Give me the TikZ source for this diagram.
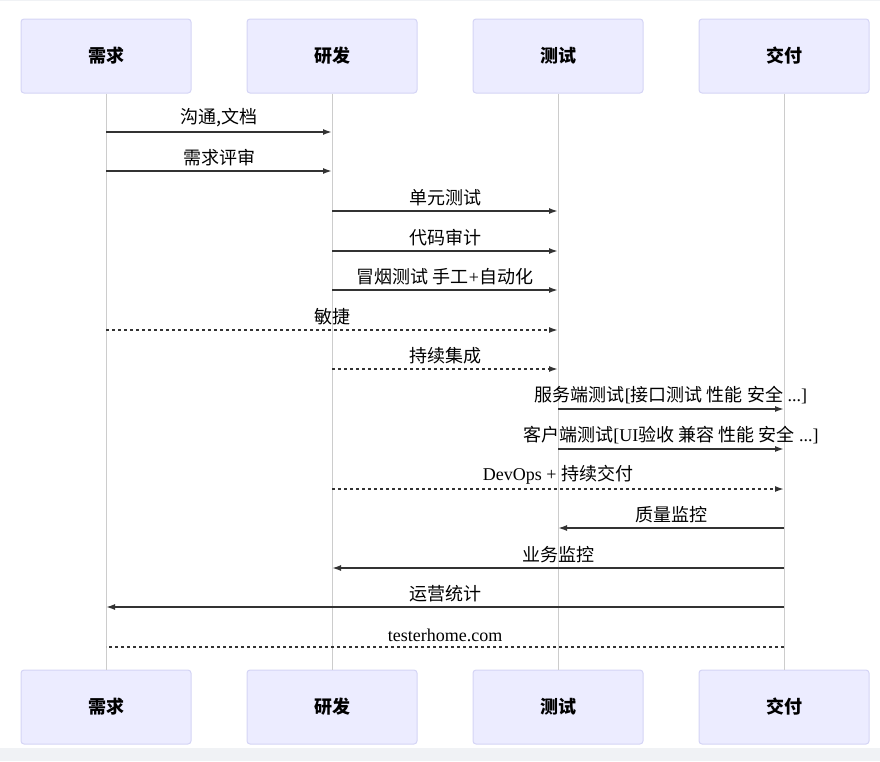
\documentclass[tikz,border=0pt]{standalone}
\usepackage{fontspec}
\setmainfont{Liberation Serif}
\newfontfamily\cjk{Noto Sans CJK SC}
\usetikzlibrary{arrows.meta}
\definecolor{actfill}{HTML}{ECECFF}
\definecolor{actdraw}{HTML}{D4D4F5}
\definecolor{lifec}{HTML}{CCCCCC}
\definecolor{msgc}{HTML}{333333}
\definecolor{stripc}{HTML}{F0F2F5}
\begin{document}
\begin{tikzpicture}[x=1pt,y=-1pt,
  actor/.style={draw=actdraw,fill=actfill,rounded corners=3pt,line width=1pt,
    minimum width=170pt,minimum height=74pt,inner sep=0pt,
    font=\fontsize{18}{21}\selectfont\cjk\bfseries},
  life/.style={draw=lifec,line width=1pt},
  msg/.style={draw=msgc,line width=1.6pt,-{Latex[length=9pt,width=6pt]}},
  dmsg/.style={msg,dash pattern=on 3pt off 3pt},
  dline/.style={draw=msgc,line width=1.6pt,dash pattern=on 3pt off 3pt},
  lbl/.style={above=4pt,inner sep=0pt,font=\fontsize{18}{21}\selectfont,text=black}]
\path[use as bounding box] (0,0) rectangle (880,761);
\fill[stripc] (0,748) rectangle (880,761);
\draw[stripc,line width=1pt] (0,0.5) -- (880,0.5);
% actors
\node[actor] (a1) at (106,56) {需求};
\node[actor] (a2) at (332,56) {研发};
\node[actor] (a3) at (558,56) {测试};
\node[actor] (a4) at (784,56) {交付};
\node[actor] (b1) at (106,707) {需求};
\node[actor] (b2) at (332,707) {研发};
\node[actor] (b3) at (558,707) {测试};
\node[actor] (b4) at (784,707) {交付};
\draw[life] (a1.south) -- (b1.north);
\draw[life] (a2.south) -- (b2.north);
\draw[life] (a3.south) -- (b3.north);
\draw[life] (a4.south) -- (b4.north);
% rows
\coordinate (r1) at (0,132);
\coordinate (r2) at (0,171);
\coordinate (r3) at (0,211);
\coordinate (r4) at (0,251);
\coordinate (r5) at (0,290);
\coordinate (r6) at (0,330);
\coordinate (r7) at (0,369);
\coordinate (r8) at (0,409);
\coordinate (r9) at (0,449);
\coordinate (r10) at (0,489);
\coordinate (r11) at (0,528);
\coordinate (r12) at (0,568);
\coordinate (r13) at (0,607);
\coordinate (r14) at (0,647);
% messages
\draw[msg] (a1 |- r1) -- node[lbl] {\cjk 沟通,文档} (a2 |- r1);
\draw[msg] (a1 |- r2) -- node[lbl] {\cjk 需求评审} (a2 |- r2);
\draw[msg] (a2 |- r3) -- node[lbl] {\cjk 单元测试} (a3 |- r3);
\draw[msg] (a2 |- r4) -- node[lbl] {\cjk 代码审计} (a3 |- r4);
\draw[msg] (a2 |- r5) -- node[lbl] {{\cjk 冒烟测试 手工}+{\cjk 自动化}} (a3 |- r5);
\draw[dmsg] (a1 |- r6) -- node[lbl] {\cjk 敏捷} (a3 |- r6);
\draw[dmsg] (a2 |- r7) -- node[lbl] {\cjk 持续集成} (a3 |- r7);
\draw[msg] (a3 |- r8) -- node[lbl] {{\cjk 服务端测试}[{\cjk 接口测试 性能 安全} ...]} (a4 |- r8);
\draw[msg] (a3 |- r9) -- node[lbl] {{\cjk 客户端测试}[UI{\cjk 验收 兼容 性能 安全} ...]} (a4 |- r9);
\draw[dmsg] (a2 |- r10) -- node[lbl] {DevOps + {\cjk 持续交付}} (a4 |- r10);
\draw[msg] (a4 |- r11) -- node[lbl] {\cjk 质量监控} (a3 |- r11);
\draw[msg] (a4 |- r12) -- node[lbl] {\cjk 业务监控} (a2 |- r12);
\draw[msg] (a4 |- r13) -- node[lbl] {\cjk 运营统计} (a1 |- r13);
\draw[dline] (a4 |- r14) -- node[lbl] {testerhome.com} (a1 |- r14);
\end{tikzpicture}
\end{document}
